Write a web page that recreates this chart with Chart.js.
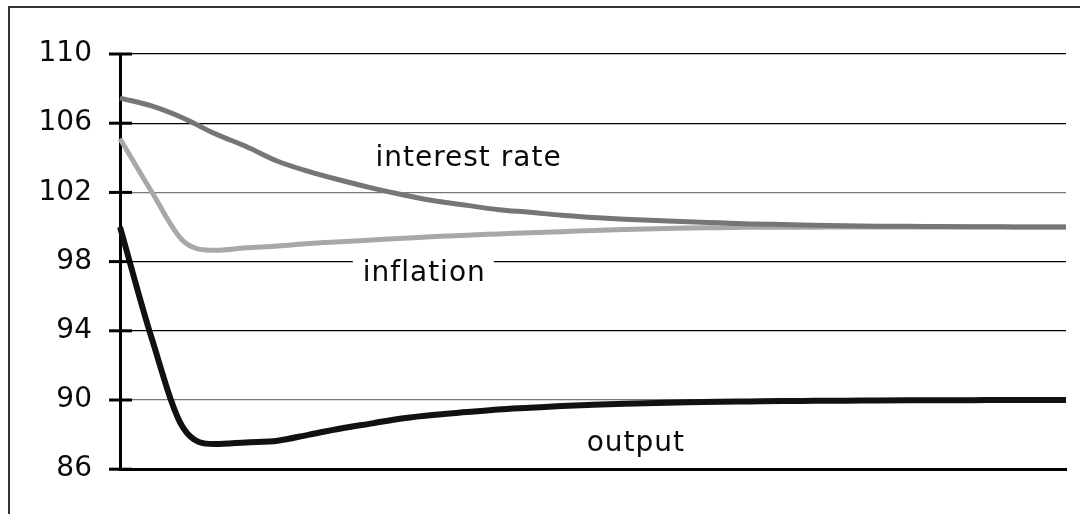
<!DOCTYPE html>
<html>
<head>
<meta charset="utf-8">
<script src="https://cdn.jsdelivr.net/npm/chart.js@4"></script>
<style>
  html, body { margin: 0; padding: 0; background: #fff; }
  #wrap { position: relative; width: 1080px; height: 514px; }
  #frame { position: absolute; left: 8px; top: 6px; right: -4px; bottom: -4px; border-left: 2px solid #333; border-top: 2px solid #333; }
  canvas { position: absolute; left: 0; top: 0; }
</style>
</head>
<body>
<div id="wrap">
  <div id="frame"></div>
  <canvas id="graphCanvas" width="1080" height="514"></canvas>
</div>
<script>
// periods after the shock
var periods = [];
for (var i = 0; i <= 30; i++) periods.push(String(i));

var interestRate = [107.45, 107.0, 106.3, 105.4, 104.65, 103.8, 103.2, 102.7, 102.25, 101.85,
  101.5, 101.25, 101.0, 100.85, 100.68, 100.55, 100.45, 100.37, 100.3, 100.24,
  100.18, 100.14, 100.1, 100.07, 100.05, 100.04, 100.03, 100.02, 100.01, 100.0, 100.0];
var inflation = [105.1, 102.05, 99.2, 98.65, 98.8, 98.9, 99.05, 99.15, 99.25, 99.35,
  99.45, 99.53, 99.6, 99.67, 99.73, 99.8, 99.86, 99.9, 99.94, 99.96,
  99.98, 99.99, 99.99, 100.0, 100.0, 100.0, 100.0, 100.0, 100.0, 100.0, 100.0];
var output = [100.0, 93.6, 88.4, 87.45, 87.55, 87.65, 88.0, 88.35, 88.65, 88.95,
  89.15, 89.3, 89.45, 89.55, 89.65, 89.72, 89.78, 89.83, 89.87, 89.9,
  89.92, 89.94, 89.95, 89.96, 89.97, 89.98, 89.99, 89.99, 90.0, 90.0, 90.0];

var yTicks = [86, 90, 94, 98, 102, 106, 110];
var grayGrid = [90, 102];

// text labels placed on the chart: [text, x value (period), y value of baseline, boxed]
var notes = [
  ['interest rate', 8.1, 103.55, false],
  ['inflation', 7.7, 96.9, true],
  ['output', 14.8, 87.05, false]
];

var fontName = '"DejaVu Sans", Verdana, sans-serif';

var extras = {
  id: 'extras',
  beforeDatasetsDraw: function(chart) {
    var ctx = chart.ctx, xs = chart.scales.x, ys = chart.scales.y;
    ctx.save();
    ctx.font = '28px ' + fontName;
    ctx.letterSpacing = '1px';
    notes.forEach(function(n) {
      if (!n[3]) return;
      var x = xs.getPixelForValue(n[1]), y = ys.getPixelForValue(n[2]);
      var w = ctx.measureText(n[0]).width;
      ctx.fillStyle = '#fff';
      ctx.fillRect(x - 10, y - 30, w + 18, 40);
    });
    ctx.restore();
  },
  afterDraw: function(chart) {
    var ctx = chart.ctx, xs = chart.scales.x, ys = chart.scales.y;
    var left = chart.chartArea.left;
    ctx.save();
    ctx.strokeStyle = '#000';
    ctx.lineWidth = 3;
    yTicks.forEach(function(t) {
      var y = ys.getPixelForValue(t);
      ctx.beginPath();
      ctx.moveTo(left - 11, y);
      ctx.lineTo(left + 12, y);
      ctx.stroke();
    });
    ctx.font = '28px ' + fontName;
    ctx.letterSpacing = '1px';
    ctx.fillStyle = '#0a0a0a';
    ctx.textBaseline = 'alphabetic';
    notes.forEach(function(n) {
      ctx.fillText(n[0], xs.getPixelForValue(n[1]), ys.getPixelForValue(n[2]));
    });
    ctx.restore();
  }
};

new Chart(document.getElementById('graphCanvas'), {
  type: 'line',
  data: {
    labels: periods,
    datasets: [
      { label: 'interest rate', data: interestRate, borderColor: '#767676', borderWidth: 5, order: 0 },
      { label: 'inflation', data: inflation, borderColor: '#a8a8a8', borderWidth: 5, order: 1 },
      { label: 'output', data: output, borderColor: '#111111', borderWidth: 6, order: 2 }
    ]
  },
  options: {
    responsive: false,
    animation: false,
    devicePixelRatio: 1,
    layout: { padding: { top: 54, bottom: 44, left: 0, right: 14 } },
    elements: {
      point: { radius: 0 },
      line: { cubicInterpolationMode: 'monotone', borderCapStyle: 'butt', borderJoinStyle: 'round' }
    },
    plugins: { legend: { display: false }, tooltip: { enabled: false } },
    scales: {
      x: {
        offset: false,
        ticks: { display: false },
        grid: { display: false },
        border: { color: '#000', width: 3 },
        afterFit: function(s) { s.height = 0; }
      },
      y: {
        min: 86,
        max: 110,
        afterBuildTicks: function(s) { s.ticks = yTicks.map(function(v) { return { value: v }; }); },
        ticks: { padding: 28, color: '#0a0a0a', font: { family: fontName, size: 28 } },
        grid: {
          drawTicks: false,
          color: function(c) { return grayGrid.indexOf(c.tick.value) >= 0 ? '#777' : '#000'; },
          lineWidth: function(c) { return grayGrid.indexOf(c.tick.value) >= 0 ? 1.2 : 1.3; }
        },
        border: { color: '#000', width: 3 },
        afterFit: function(s) { s.width = 120; }
      }
    }
  },
  plugins: [extras]
});
</script>
</body>
</html>
